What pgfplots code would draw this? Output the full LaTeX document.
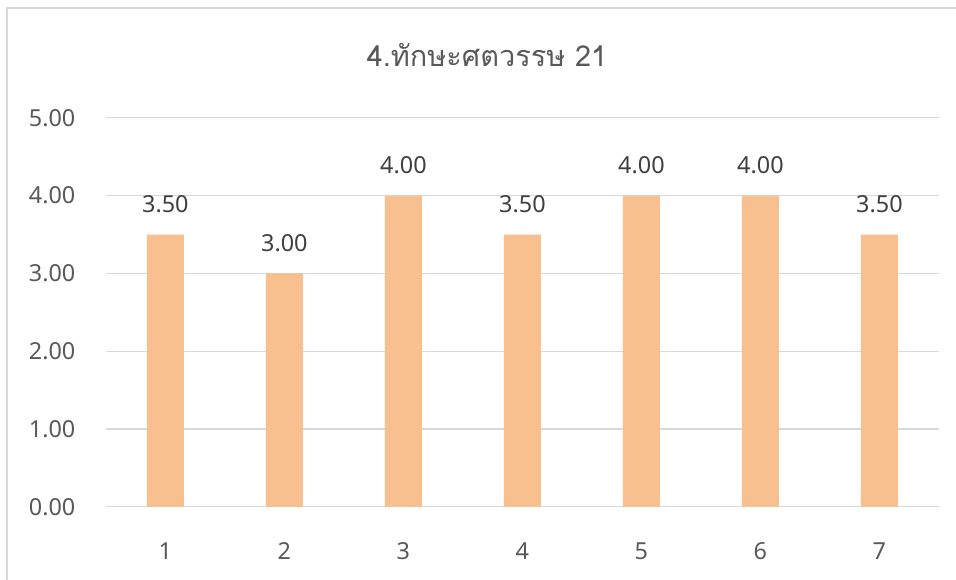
\documentclass[border=0pt]{standalone}
\usepackage{fontspec}
\setmainfont{Noto Sans}
\newfontfamily\thaifont[Script=Thai]{Loma}
\usepackage{pgfplots}
\pgfplotsset{compat=1.18}
\definecolor{barc}{RGB}{248,192,142}
\definecolor{gridc}{RGB}{217,217,217}
\definecolor{txt}{RGB}{89,89,89}
\definecolor{lbl}{RGB}{64,64,64}
\begin{document}
\begin{tikzpicture}[x=1bp,y=1bp]
\useasboundingbox (0,0) rectangle (956,580);
\fill[white] (0,0) rectangle (956,580);
\draw[gridc, line width=1.2bp] (7,0) -- (7,572) -- (956,572);
\node[text=txt, font=\thaifont\fontsize{29}{34}\selectfont] at (487,525) {4.ทักษะศตวรรษ 21};
\begin{axis}[at={(89,94)}, anchor=south west, scale only axis,
  width=833bp, height=389bp,
  xmin=0.5, xmax=7.5, ymin=0, ymax=5,
  ytick={0,1,2,3,4,5}, xtick={1,2,3,4,5,6,7},
  axis line style={draw=none},
  major tick length=0pt,
  ymajorgrids, grid style={gridc, line width=1.2bp},
  /pgf/number format/assume math mode=true,
  yticklabel style={/pgf/number format/fixed, /pgf/number format/fixed zerofill, /pgf/number format/precision=2, anchor=east, xshift=-27bp},
  xticklabel style={anchor=center, yshift=-44bp},
  tick label style={text=txt, font=\fontsize{23.5}{27}\selectfont},
  ybar, bar width=37bp, bar shift=0pt,
  nodes near coords,
  nodes near coords style={/pgf/number format/fixed, /pgf/number format/fixed zerofill, /pgf/number format/precision=2, anchor=center, yshift=30bp, text=lbl, font=\fontsize{23.5}{27}\selectfont},
]
\addplot[fill=barc, draw=none] coordinates {(1,3.5) (2,3.0) (3,4.0) (4,3.5) (5,4.0) (6,4.0) (7,3.5)};
\end{axis}
\end{tikzpicture}
\end{document}
